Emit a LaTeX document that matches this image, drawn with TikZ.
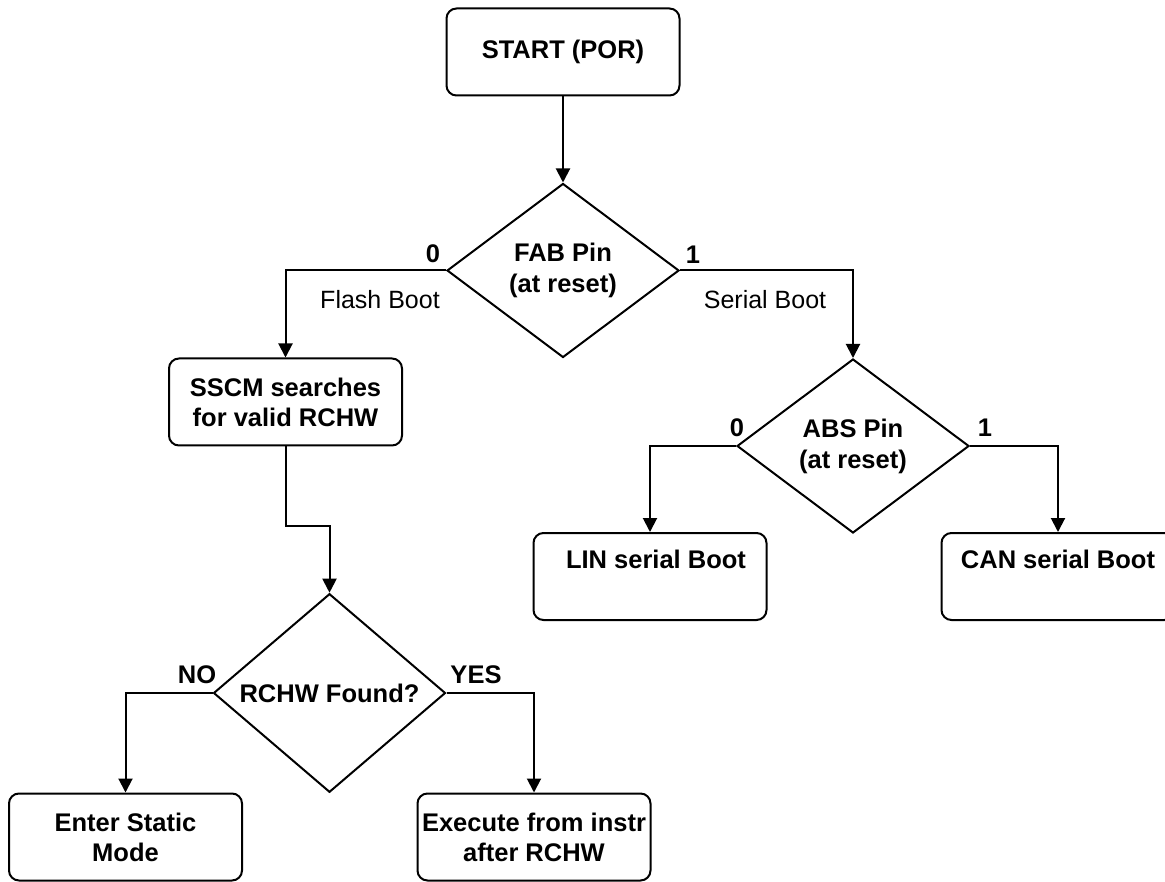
\documentclass[tikz,border=0pt]{standalone}
\usepackage{fontspec}
\setmainfont{Liberation Sans}
\usetikzlibrary{shapes.geometric,arrows.meta}
\begin{document}
\begin{tikzpicture}[x=1pt,y=-1pt,
 box/.style={draw,line width=2pt,rounded corners=10pt,minimum width=233pt,minimum height=87pt,inner sep=0pt,align=center,font=\bfseries\fontsize{25.5}{30}\selectfont},
 dec/.style={draw,diamond,line width=2pt,minimum width=232pt,minimum height=174pt,inner sep=0pt,align=center,font=\bfseries\fontsize{25.5}{31}\selectfont},
 arr/.style={line width=2pt,-{Triangle[width=14pt,length=14pt]}},
 lab/.style={font=\bfseries\fontsize{25.5}{30}\selectfont,inner sep=0pt},
 txt/.style={font=\fontsize{25}{30}\selectfont,inner sep=0pt}]
\useasboundingbox (0,0) rectangle (1165,882);
\clip (0,0) rectangle (1165,882);

\node[box] (start) at (563,52) {START (POR)};
\node[dec] (fab) at (563,270.5) {FAB Pin\\(at reset)};
\node[box] (sscm) at (285.5,402) {SSCM searches\\for valid RCHW};
\node[dec] (abs) at (853,446) {ABS Pin\\(at reset)};
\node[box] (lin) at (650,576.5) {\hspace{12pt}LIN serial Boot\\[5pt]\mbox{}};
\node[box] (can) at (1058,576.5) {CAN serial Boot\\[5pt]\mbox{}};
\node[dec] (rchw) at (329.5,693) {RCHW Found?};
\node[box] (static) at (125.5,837) {Enter Static\\Mode};
\node[box] (exec) at (534,837) {Execute from instr\\after RCHW};

\draw[arr] (start) -- (fab);
\draw[arr] (fab.west) -| (sscm.north);
\draw[arr] (fab.east) -| (abs.north);
\draw[arr] (abs.west) -| (lin.north);
\draw[arr] (abs.east) -| (can.north);
\draw[arr] (sscm.south) -- ++(0,79) -| (rchw.north);
\draw[arr] (rchw.west) -| (static.north);
\draw[arr] (rchw.east) -| (exec.north);

\node[lab] (l0a) at (433,254) {0};
\node[lab] (l1a) at (693,255) {1};
\node[txt] (lfb) at (380,300) {Flash Boot};
\node[txt] (lsb) at (765,300) {Serial Boot};
\node[lab] (l0b) at (737,428) {0};
\node[lab] (l1b) at (985,428) {1};
\node[lab] (lno) at (197,675) {NO};
\node[lab] (lyes) at (476,675) {YES};
\end{tikzpicture}
\end{document}
